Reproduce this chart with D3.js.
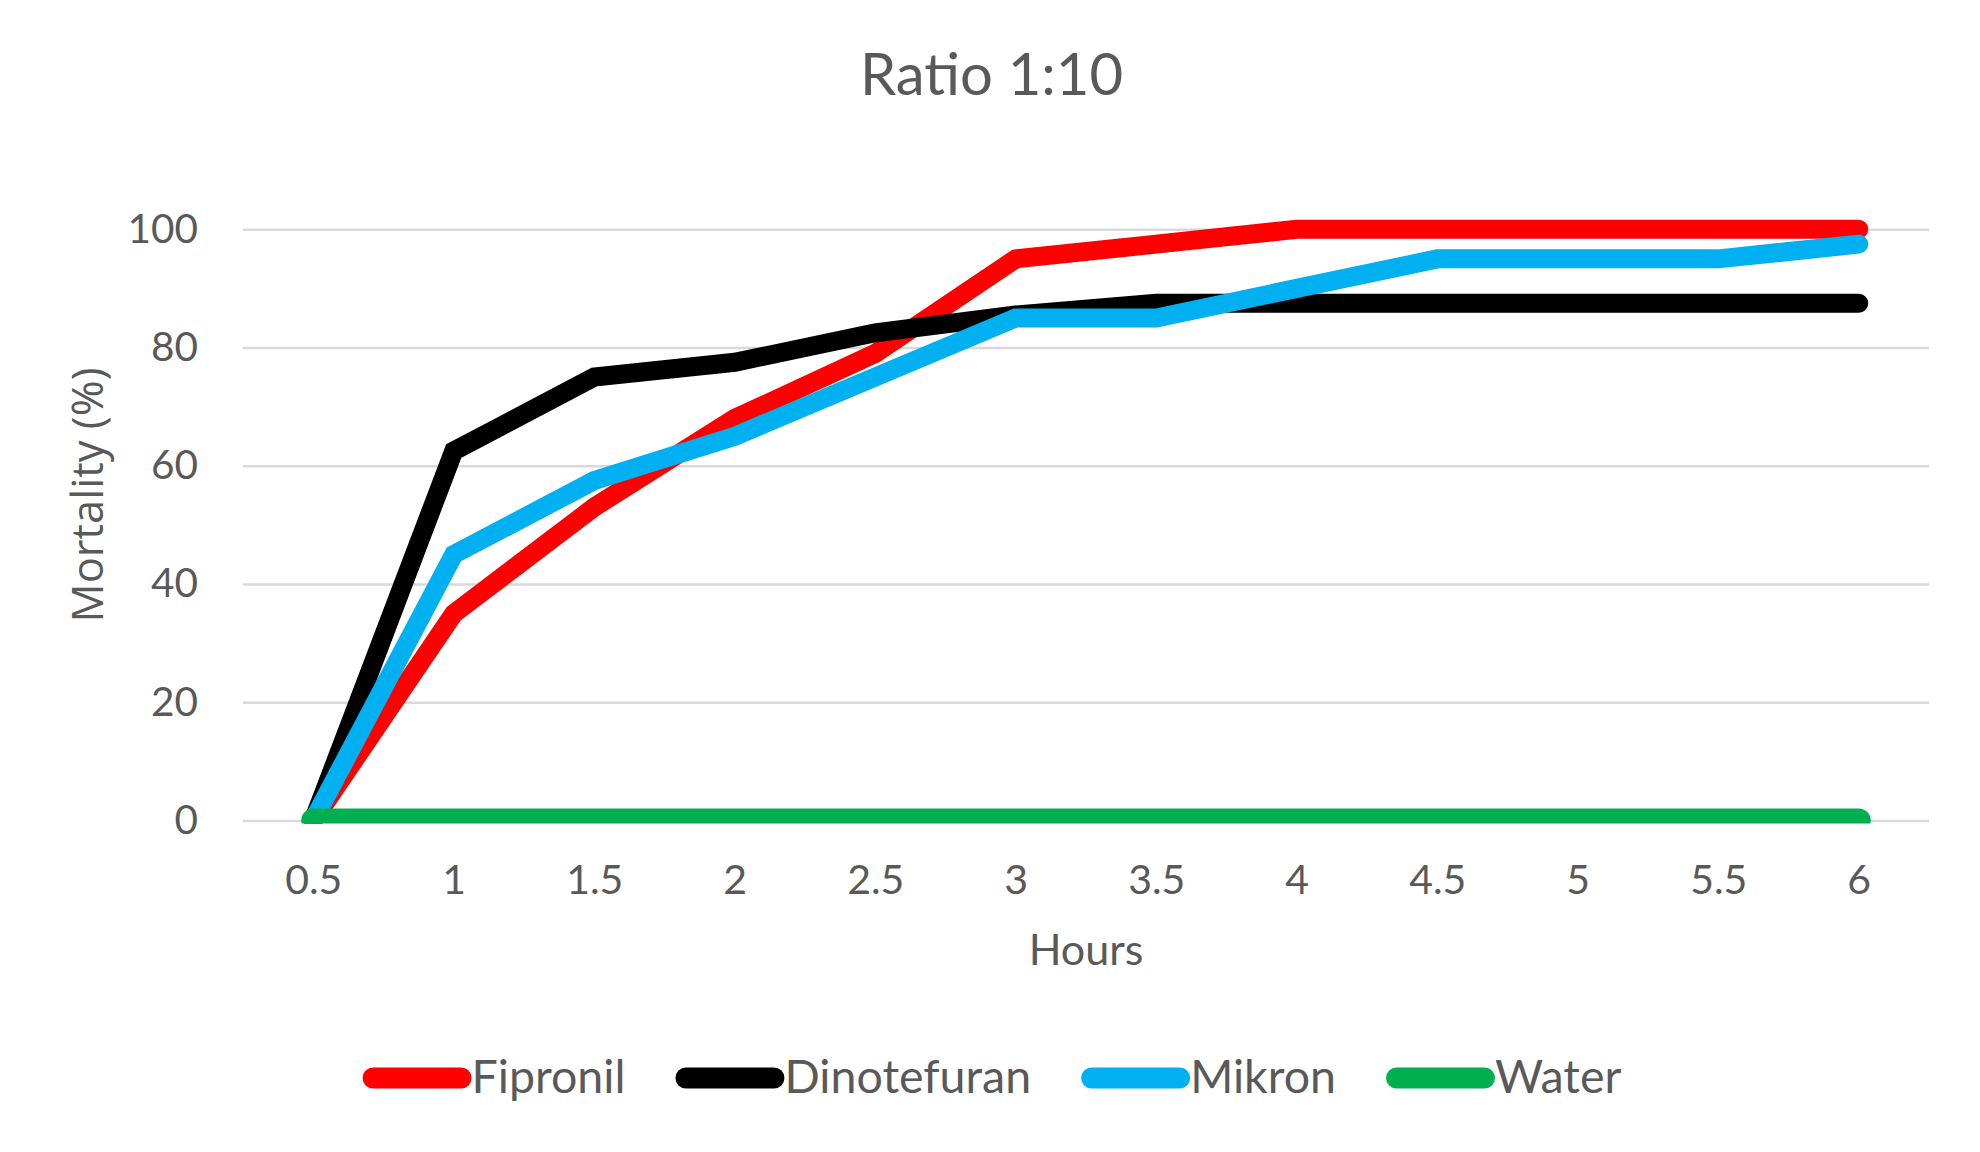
<!DOCTYPE html>
<html>
<head>
<meta charset="utf-8">
<script src="https://cdn.jsdelivr.net/npm/d3@7"></script>
<style>
  html, body { margin: 0; padding: 0; background: #fff; }
  svg { display: block; }
  .tick text { fill: #595959; font-family: Lato, "Open Sans", sans-serif; }
</style>
</head>
<body>
<div id="chart"></div>
<script>
// data
var hours = ["0.5", "1", "1.5", "2", "2.5", "3", "3.5", "4", "4.5", "5", "5.5", "6"];
var fipronil    = [0, 35, 53, 68, 79, 95, 97.5, 100, 100, 100, 100, 100];
var dinotefuran = [0, 62.5, 75, 77.5, 82.5, 85.5, 87.5, 87.5, 87.5, 87.5, 87.5, 87.5];
var mikron      = [0, 45, 57.5, 65, 75, 85, 85, 90, 95, 95, 95, 97.5];
var water       = [0, 0, 0, 0, 0, 0, 0, 0, 0, 0, 0, 0];
var yTicks = [0, 20, 40, 60, 80, 100];

var seriesNames  = ["Fipronil", "Dinotefuran", "Mikron", "Water"];
var seriesValues = [fipronil, dinotefuran, mikron, water];
var seriesColors = ["#ff0000", "#000000", "#00b0f0", "#00b050"];

var W = 1980, H = 1152,
    plot = {left: 243, right: 1929, top: 229.3, bottom: 820.5},
    textColor = "#595959";

var svg = d3.select("#chart").append("svg")
    .attr("width", W)
    .attr("height", H);

var x = d3.scalePoint()
    .domain(hours)
    .range([plot.left, plot.right])
    .padding(0.5);

var y = d3.scaleLinear()
    .domain([0, 100])
    .range([plot.bottom, plot.top]);

// gridlines
svg.append("g")
    .attr("class", "grid")
    .attr("transform", "translate(" + plot.left + ",0)")
    .call(d3.axisLeft(y).tickValues(yTicks).tickSize(-(plot.right - plot.left)).tickFormat(""))
    .call(function(g) {
        g.select(".domain").remove();
        g.selectAll("line").attr("stroke", "#d9d9d9").attr("stroke-width", 2.5);
    });

// y axis labels
svg.append("g")
    .attr("transform", "translate(" + plot.left + ",0)")
    .call(d3.axisLeft(y).tickValues(yTicks).tickSize(0).tickPadding(45))
    .call(function(g) {
        g.select(".domain").remove();
        g.selectAll("text").style("font-size", "40.5px");
    });

// x axis labels
svg.append("g")
    .attr("transform", "translate(0," + plot.bottom + ")")
    .call(d3.axisBottom(x).tickSize(0).tickPadding(44))
    .call(function(g) {
        g.select(".domain").remove();
        g.selectAll("text").style("font-size", "41px");
    });

// title + axis titles
svg.append("text")
    .attr("x", 991.5)
    .attr("y", 95)
    .attr("text-anchor", "middle")
    .style("font-family", "Lato, sans-serif")
    .style("font-size", "58px")
    .style("fill", textColor)
    .text("Ratio 1:10");

svg.append("text")
    .attr("x", (plot.left + plot.right) / 2)
    .attr("y", 965)
    .attr("text-anchor", "middle")
    .style("font-family", "Lato, sans-serif")
    .style("font-size", "43px")
    .style("fill", textColor)
    .text("Hours");

svg.append("text")
    .attr("transform", "translate(103,495)rotate(-90)")
    .attr("text-anchor", "middle")
    .style("font-family", "'Open Sans', sans-serif")
    .style("font-size", "43.5px")
    .style("fill", textColor)
    .text("Mortality (%)");

// lines (clipped just below the zero line, like the original)
svg.append("clipPath")
    .attr("id", "plotClip")
    .append("rect")
    .attr("x", 0)
    .attr("y", 0)
    .attr("width", W)
    .attr("height", plot.bottom + 3);

var line = d3.line()
    .x(function(d, i) { return x(hours[i]); })
    .y(function(d) { return y(d); });

svg.append("g")
    .attr("clip-path", "url(#plotClip)")
    .selectAll("path")
    .data(seriesValues)
    .enter().append("path")
    .attr("d", line)
    .attr("fill", "none")
    .attr("stroke", function(d, i) { return seriesColors[i]; })
    .attr("stroke-width", function(d, i) { return i === 3 ? 24 : 19; })
    .attr("stroke-linecap", "round")
    .attr("stroke-linejoin", "miter")
    .attr("stroke-miterlimit", 4);

// legend
var legend = svg.append("g").attr("class", "legend");
var swatchLen = 88, swatchW = 21, itemGap = 50, legendY = 1078;

var items = legend.selectAll("g")
    .data(seriesNames)
    .enter().append("g");

items.append("line")
    .attr("x1", swatchW / 2)
    .attr("x2", swatchW / 2 + swatchLen)
    .attr("y1", 0)
    .attr("y2", 0)
    .attr("stroke", function(d, i) { return seriesColors[i]; })
    .attr("stroke-width", swatchW)
    .attr("stroke-linecap", "round");

items.append("text")
    .attr("x", swatchLen + swatchW)
    .attr("y", 15)
    .style("font-family", "Lato, sans-serif")
    .style("font-size", "46.5px")
    .style("fill", textColor)
    .text(function(d) { return d; });

var widths = [];
items.each(function() {
    widths.push(swatchLen + swatchW + d3.select(this).select("text").node().getComputedTextLength());
});
var total = d3.sum(widths) + itemGap * (widths.length - 1),
    cx = 992 - total / 2;
items.attr("transform", function(d, i) {
    var tx = cx;
    cx += widths[i] + itemGap;
    return "translate(" + tx + "," + legendY + ")";
});
</script>
</body>
</html>
